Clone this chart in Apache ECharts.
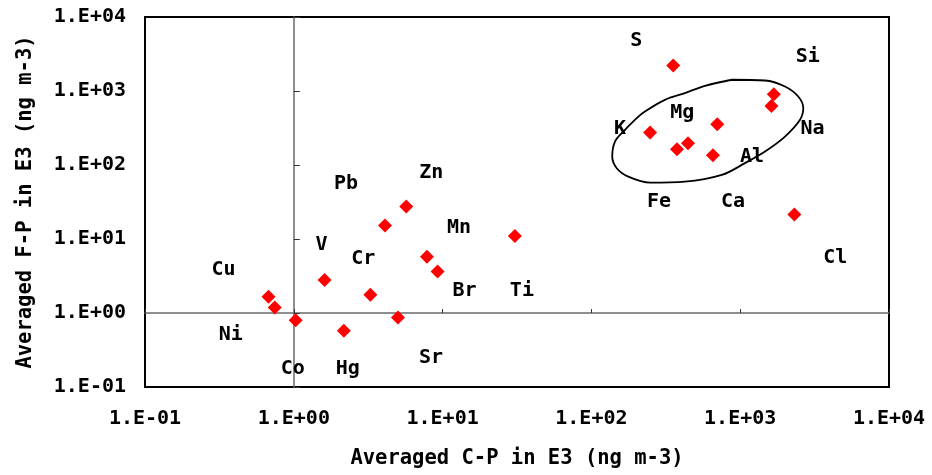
<!DOCTYPE html>
<html>
<head>
<meta charset="utf-8">
<script src="https://cdn.jsdelivr.net/npm/echarts@6/dist/echarts.min.js"></script>
<style>
  html, body { margin: 0; padding: 0; background: #fff; }
  #chart { width: 932px; height: 475px; }
</style>
</head>
<body>
<div id="chart"></div>
<script>
// Element averages, coarse (C-P) vs fine (F-P) particles, in E3 ng m-3
var elements = ['Cu', 'Ni', 'Co', 'V', 'Hg', 'Cr', 'Pb', 'Sr', 'Zn', 'Mn', 'Br', 'Ti',
                'S', 'Si', 'Na', 'K', 'Mg', 'Al', 'Fe', 'Ca', 'Cl'];
var cpValues = [0.676, 0.745, 1.03, 1.61, 2.17, 3.27, 4.10, 5.01, 5.70, 7.85, 9.25, 30.6,
                355, 1683, 1622, 248, 701, 446, 376, 656, 2312];
var fpValues = [1.66, 1.19, 0.80, 2.79, 0.574, 1.76, 15.2, 0.869, 27.5, 5.77, 3.65, 11.0,
                2217, 905, 628, 274, 355, 196, 163, 135, 21.4];

// Tick labels for both log axes (one per decade)
var tickLabels = ['1.E-01', '1.E+00', '1.E+01', '1.E+02', '1.E+03', '1.E+04'];

// Outline drawn around the crustal / sea-salt group (data units)
var groupOutlineX = [877, 1468, 2000, 2455, 2655, 2524, 2000, 1468, 1076, 752, 425, 248,
                     177, 148, 138, 144, 164, 196, 229, 312, 425, 579, 877];
var groupOutlineY = [1419, 1387, 1151, 843, 587, 408, 242, 152, 106, 73.5, 59.6, 57.8,
                     69.7, 90.5, 130, 207, 283, 408, 528, 760, 937, 1175, 1419];

// Pixel offsets of each element's name from its marker
var labelOffsets = {
  Cu: [-45, -27], Ni: [-44, 27], Co: [-3, 49], V: [-3, -35], Hg: [4, 38], Cr: [-7, -36],
  Pb: [-39, -42], Sr: [33, 40], Zn: [25, -34], Mn: [32, -29], Br: [27, 19], Ti: [7, 55],
  S: [-37, -25], Si: [34, -37], Na: [41, 23], K: [-30, -4], Mg: [-35, -11], Al: [64, 13],
  Fe: [-18, 52], Ca: [20, 46], Cl: [41, 43]
};

var FONT = '"DejaVu Sans Mono", monospace';
var W = 932, H = 475;
var grid = { left: 145, top: 17, right: 43, bottom: 88 };
var decadeW = (W - grid.left - grid.right) / 5;
var decadeH = (H - grid.top - grid.bottom) / 5;

function tickFmt(value, index) {
  var k = Math.round(Math.log(value) / Math.LN10) + 1;
  return tickLabels[k] !== undefined ? tickLabels[k] : '';
}

var points = elements.map(function (name, i) {
  return {
    name: name,
    value: [cpValues[i], fpValues[i]],
    label: { offset: labelOffsets[name] }
  };
});
var outline = groupOutlineX.map(function (x, i) { return [x, groupOutlineY[i]]; });

var baseAxis = {
  type: 'log', logBase: 10, min: 0.1, max: 10000, interval: 1,
  splitLine: { show: false },
  axisTick: { show: false }
};

var textStyle = { color: '#000', fontFamily: FONT, fontWeight: 'bold', fontSize: 20 };
var nameStyle = { color: '#000', fontFamily: FONT, fontWeight: 'bold', fontSize: 20.5 };

var chart = echarts.init(document.getElementById('chart'), null, { renderer: 'canvas' });
chart.setOption({
  animation: false,
  backgroundColor: '#ffffff',
  grid: Object.assign({ show: true, borderColor: '#000', borderWidth: 2, backgroundColor: 'transparent' }, grid),
  xAxis: [
    Object.assign({}, baseAxis, {
      position: 'bottom',
      axisLine: { show: false },
      axisLabel: Object.assign({ formatter: tickFmt, margin: 22 }, textStyle),
      name: 'Averaged C-P in E3 (ng m-3)',
      nameLocation: 'middle', nameGap: 61,
      nameTextStyle: nameStyle
    }),
    // horizontal reference line at F-P = 1
    Object.assign({}, baseAxis, {
      position: 'bottom', offset: -decadeH,
      axisLine: { show: true, onZero: false, lineStyle: { color: '#6a6a6a', width: 1.5 } },
      axisTick: { show: true, inside: true, length: 4, lineStyle: { color: '#333', width: 1 } },
      axisLabel: { show: false }
    })
  ],
  yAxis: [
    Object.assign({}, baseAxis, {
      position: 'left',
      axisLine: { show: false },
      axisLabel: Object.assign({ formatter: tickFmt, margin: 19 }, textStyle),
      name: 'Averaged F-P in E3 (ng m-3)',
      nameLocation: 'middle', nameGap: 109,
      nameTextStyle: nameStyle
    }),
    // vertical reference line at C-P = 1
    Object.assign({}, baseAxis, {
      position: 'left', offset: -decadeW,
      axisLine: { show: true, onZero: false, lineStyle: { color: '#6a6a6a', width: 1.5 } },
      axisTick: { show: true, inside: true, length: 6, lineStyle: { color: '#333', width: 1 } },
      axisLabel: { show: false }
    })
  ],
  series: [
    {
      type: 'line',
      xAxisIndex: 0, yAxisIndex: 0,
      data: outline,
      smooth: 0.35,
      showSymbol: false,
      silent: true,
      lineStyle: { color: '#000', width: 1.8 },
      z: 3
    },
    {
      type: 'scatter',
      xAxisIndex: 0, yAxisIndex: 0,
      data: points,
      symbol: 'diamond',
      symbolSize: 14,
      itemStyle: { color: '#ff0000', opacity: 1 },
      label: Object.assign({
        show: true, position: 'inside', formatter: '{b}',
        textBorderWidth: 0, textBorderColor: 'transparent', opacity: 1
      }, textStyle),
      z: 4
    }
  ]
});
</script>
</body>
</html>
